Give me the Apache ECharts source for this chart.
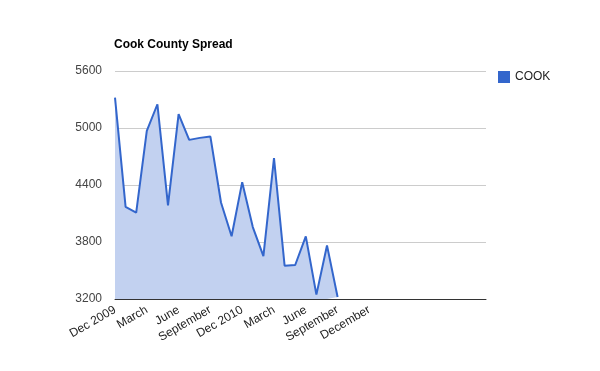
<!DOCTYPE html>
<html>
<head>
<meta charset="utf-8">
<script src="https://cdn.jsdelivr.net/npm/echarts@6/dist/echarts.min.js"></script>
<style>html,body{margin:0;padding:0;background:#fff}#c{width:600px;height:371px}</style>
</head>
<body>
<div id="c"></div>
<script>
var months = ['Dec 2009','Jan 2010','Feb 2010','Mar 2010','Apr 2010','May 2010','Jun 2010','Jul 2010','Aug 2010','Sep 2010','Oct 2010','Nov 2010',
  'Dec 2010','Jan 2011','Feb 2011','Mar 2011','Apr 2011','May 2011','Jun 2011','Jul 2011','Aug 2011','Sep 2011','Oct 2011','Nov 2011',
  'Dec 2011','Jan 2012','Feb 2012','Mar 2012','Apr 2012','May 2012','Jun 2012','Jul 2012','Aug 2012','Sep 2012','Oct 2012','Nov 2012'];
var cookValues = [5320, 4170, 4110, 4970, 5250, 4185, 5145, 4875, 4896, 4910, 4216, 3860,
  4430, 3957, 3652, 4682, 3551, 3558, 3859, 3246, 3764, 3221];
var tickLabels = ['Dec 2009','March','June','September','Dec 2010','March','June','September','December'];
var yTicks = [3200, 3800, 4400, 5000, 5600];

var chart = echarts.init(document.getElementById('c'));
chart.setOption({
  animation: false,
  textStyle: {fontFamily: 'Liberation Sans, Arial, sans-serif'},
  title: {
    text: 'Cook County Spread',
    left: 114, top: 39, padding: 0,
    textStyle: {fontSize: 12, fontWeight: 'bold', color: '#000', fontFamily: 'Liberation Sans, Arial, sans-serif'}
  },
  legend: {
    left: 498, top: 71, orient: 'vertical', padding: 0,
    icon: 'rect', itemWidth: 12, itemHeight: 12, itemGap: 5,
    textStyle: {fontSize: 12, color: '#222', fontFamily: 'Liberation Sans, Arial, sans-serif'},
    data: ['COOK']
  },
  grid: {left: 115, right: 114, top: 71, bottom: 72, containLabel: false},
  xAxis: {
    type: 'category',
    data: months,
    boundaryGap: false,
    axisLine: {lineStyle: {color: '#333', width: 1}},
    axisTick: {show: false},
    splitLine: {show: false},
    axisLabel: {
      rotate: 30, fontSize: 12, color: '#222', margin: 10,
      interval: function (i) { return i % 3 === 0 && i / 3 < tickLabels.length; },
      formatter: function (v, i) { return tickLabels[i / 3] || ''; }
    }
  },
  yAxis: {
    type: 'value',
    min: yTicks[0], max: yTicks[yTicks.length - 1], interval: yTicks[1] - yTicks[0],
    axisLine: {show: false},
    axisTick: {show: false},
    splitLine: {lineStyle: {color: '#cccccc', width: 1}},
    axisLabel: {fontSize: 12, color: '#444', margin: 13, formatter: function (v) { return String(v); }}
  },
  series: [{
    name: 'COOK',
    type: 'line',
    data: cookValues,
    symbol: 'none',
    color: '#3366cc',
    lineStyle: {color: '#3366cc', width: 2},
    areaStyle: {color: '#c2d1f0', opacity: 1, origin: 'start'}
  }]
});
</script>
</body>
</html>
